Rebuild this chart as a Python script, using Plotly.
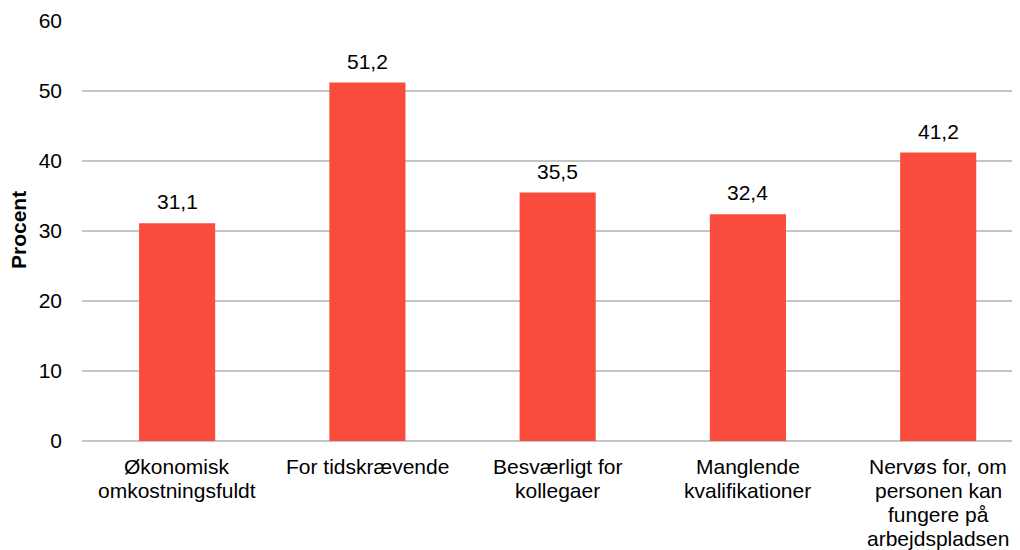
import plotly.graph_objects as go

categories = [
    "Økonomisk<br>omkostningsfuldt",
    "For tidskrævende",
    "Besværligt for<br>kollegaer",
    "Manglende<br>kvalifikationer",
    "Nervøs for, om<br>personen kan<br>fungere på<br>arbejdspladsen",
]
values = [31.1, 51.2, 35.5, 32.4, 41.2]
y_ticks = [0, 10, 20, 30, 40, 50, 60]

FONT = "Liberation Sans, Arial, sans-serif"
BAR_COLOR = "#F94C3C"
FS = 21
LINE_GAP = 24  # tighter line spacing than plotly's default 1.3em

fig = go.Figure()
fig.add_trace(go.Bar(
    x=list(range(len(categories))),
    y=values,
    width=0.4,
    marker=dict(color=BAR_COLOR, line=dict(width=0)),
    hoverinfo="skip",
))

for i, v in enumerate(values):
    fig.add_annotation(
        x=i, y=v, text=f"{v:.1f}".replace(".", ","),
        showarrow=False, yanchor="bottom", yshift=8,
        font=dict(family=FONT, size=FS, color="#000000"),
    )

# category labels, one annotation per line for Excel-like line spacing
for i, cat in enumerate(categories):
    for k, line in enumerate(cat.split("<br>")):
        fig.add_annotation(
            x=i, xref="x", y=0, yref="paper", xanchor="center", yanchor="middle",
            yshift=-(25 + k * LINE_GAP), text=line, showarrow=False,
            font=dict(family=FONT, size=FS, color="#000000"),
        )

fig.add_annotation(
    xref="paper", yref="paper", x=0, y=0.5, xanchor="center", yanchor="middle",
    xshift=-64, yshift=1, textangle=-90, showarrow=False,
    text="<b>Procent</b>", font=dict(family=FONT, size=FS, color="#000000"),
)

# page body adds an 8px offset; figure sized so the plot lands where the reference has it
fig.update_layout(
    width=1012, height=542,
    margin=dict(l=74, r=0, t=13, b=109),
    paper_bgcolor="white", plot_bgcolor="white",
    showlegend=False,
    font=dict(family=FONT, size=FS, color="#000000"),
    xaxis=dict(
        range=[-0.5, 4.43],
        tickmode="array",
        tickvals=list(range(len(categories))),
        showticklabels=False,
        showgrid=False, showline=False, zeroline=False,
        ticks="", automargin=False,
    ),
    yaxis=dict(
        range=[0, 60],
        tickmode="array",
        tickvals=y_ticks,
        ticktext=[str(t) for t in y_ticks],
        showgrid=True, gridcolor="#C4C4C4", gridwidth=1.5,
        zeroline=True, zerolinecolor="#C4C4C4", zerolinewidth=1.5,
        showline=False, ticks="", ticklabelstandoff=19, automargin=False,
        tickfont=dict(family=FONT, size=FS, color="#000000"),
    ),
)

fig.write_html("out.html")
